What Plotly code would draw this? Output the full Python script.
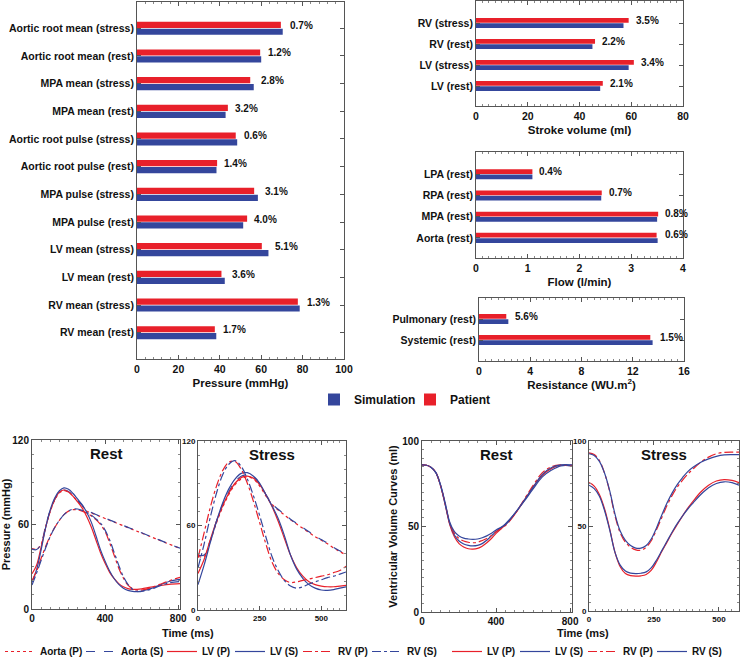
import plotly.graph_objects as go

BLUE = "#34469C"
RED = "#E8202A"
FONT = "Liberation Sans"

# ---------------- bar chart data (listed top -> bottom as drawn) ----------------
pressure_cats = ["Aortic root mean (stress)", "Aortic root mean (rest)", "MPA mean (stress)",
                 "MPA mean (rest)", "Aortic root pulse (stress)", "Aortic root pulse (rest)",
                 "MPA pulse (stress)", "MPA pulse (rest)", "LV mean (stress)", "LV mean (rest)",
                 "RV mean (stress)", "RV mean (rest)"]
pressure_sim = [70.4, 60.0, 56.4, 42.8, 48.4, 38.4, 58.4, 51.3, 63.5, 42.4, 78.6, 38.3]
pressure_pat = [69.5, 59.5, 54.7, 43.9, 47.7, 38.7, 56.6, 53.2, 60.3, 40.8, 77.7, 37.6]
pressure_err = ["0.7%", "1.2%", "2.8%", "3.2%", "0.6%", "1.4%", "3.1%", "4.0%", "5.1%", "3.6%", "1.3%", "1.7%"]

stroke_cats = ["RV (stress)", "RV (rest)", "LV (stress)", "LV (rest)"]
stroke_sim = [57.0, 45.0, 59.0, 48.0]
stroke_pat = [59.0, 46.0, 61.0, 49.0]
stroke_err = ["3.5%", "2.2%", "3.4%", "2.1%"]

flow_cats = ["LPA (rest)", "RPA (rest)", "MPA (rest)", "Aorta (rest)"]
flow_sim = [1.09, 2.42, 3.50, 3.51]
flow_pat = [1.09, 2.43, 3.52, 3.49]
flow_err = ["0.4%", "0.7%", "0.8%", "0.6%"]

resist_cats = ["Pulmonary (rest)", "Systemic (rest)"]
resist_sim = [2.29, 13.55]
resist_pat = [2.13, 13.37]
resist_err = ["5.6%", "1.5%"]

# ---------------- pressure curves (mmHg) ----------------
t_rest_p = [0, 25, 50, 75, 100, 125, 150, 175, 200, 225, 250, 275, 300, 325, 350, 375, 400,
            425, 450, 475, 500, 525, 550, 575, 600, 650, 700, 750, 810]
aorta_rest_P = [43, 42.5, 46, 58.5, 69.5, 77.5, 82.5, 84, 83, 80, 76.5, 73, 69.5, 68.2, 66.9, 65.6, 64.3,
                63.0, 61.7, 60.4, 59.1, 57.8, 56.5, 55.2, 53.9, 51.3, 48.7, 46.1, 43]
aorta_rest_S = [42.5, 42.2, 46.5, 59, 70, 78, 83, 84.5, 83.5, 80.5, 77, 73.5, 70, 68.5, 67.1, 65.8, 64.5,
                63.2, 61.9, 60.6, 59.3, 58.0, 56.7, 55.4, 54.1, 51.5, 48.9, 46.2, 43.2]
lv_rest_P = [25, 31, 44, 58, 69.5, 78, 83, 84.5, 83, 80, 76, 71.5, 65.5, 58, 49, 40, 32.5,
             26, 21.5, 18, 15.8, 14.5, 14, 14, 14.3, 15.5, 16.5, 17.5, 18]
lv_rest_S = [19, 28, 42, 58, 70.5, 79, 84, 86, 85, 82, 78, 74, 68.5, 61.5, 52, 42, 34,
             27, 21.5, 17.5, 14.8, 13.2, 12.5, 12.3, 12.8, 14.5, 17, 19.5, 21]
rv_rest_P = [20, 27, 36, 44.5, 52, 58, 63, 67, 69.5, 70.5, 70.5, 69.5, 68, 66, 63.5, 60, 55,
             47, 38, 29, 22, 17, 14.5, 13.5, 13.5, 15, 17.5, 20, 22.5]
rv_rest_S = [17, 25.5, 34.5, 43.5, 51.5, 58, 63, 67, 69.5, 71, 71, 70, 68.5, 66.5, 64, 61, 56,
             49, 40, 31, 23, 17.5, 14, 12.5, 12.5, 14, 16.5, 18.5, 19.5]

t_stress_p = [0, 25, 50, 75, 100, 125, 150, 175, 200, 225, 250, 275, 300, 325, 350, 375, 400,
              425, 450, 475, 500, 525, 550, 575, 600]
aorta_stress_P = [38, 38, 49, 62, 73, 82, 89, 93, 94.5, 93, 88, 81, 75, 71, 67.5, 64, 61,
                  58, 55, 52, 49.5, 47, 44, 41.5, 39]
aorta_stress_S = [39, 39, 49.5, 63, 75, 84, 91, 95, 96, 94.5, 89.5, 82, 75.5, 71.5, 68, 64.5, 61.5,
                  58.5, 55.5, 52.5, 50, 47.5, 44.5, 42, 39.5]
lv_stress_P = [26, 36, 50, 63, 74, 83, 90, 94, 95, 93.5, 89, 82, 73.5, 63, 51, 39, 30,
               24, 20, 18, 17, 16.5, 16.5, 17, 17.5]
lv_stress_S = [18, 32, 48, 63, 76, 86, 93, 97, 97.5, 95, 90, 82, 74, 65, 53, 39, 29,
               22.5, 18, 15.5, 14.2, 14, 14.5, 15.5, 16.5]
rv_stress_P = [37, 55, 73, 88, 99, 105, 105.5, 100, 90, 77, 62, 47, 34, 26, 21.5, 19.5, 20,
               21, 22, 23, 24, 25, 26.5, 28, 31]
rv_stress_S = [30, 47, 66, 83, 96, 103.5, 106, 102, 93, 81, 67, 52, 38, 28, 21, 17, 15.5,
               16.5, 18.5, 20, 21.5, 23, 24, 25.5, 27]

# ---------------- ventricular volume curves (ml) ----------------
t_rest_v = [0, 25, 50, 75, 100, 125, 150, 175, 200, 225, 250, 275, 300, 325, 350, 375, 400,
            450, 500, 550, 600, 650, 700, 750, 810]
lv_rest_vol_P = [86, 85.8, 84.5, 81.5, 74, 63, 51, 44, 40, 38, 37, 36.8, 37.2, 38.5, 40.5, 43, 46,
                 51, 57, 65, 73, 80, 84, 85.8, 85.5]
lv_rest_vol_S = [86, 85.8, 84.5, 81.5, 74, 63, 51.5, 45, 41.5, 39.8, 39, 38.7, 39, 40, 42, 44.5, 47,
                 51.5, 57.5, 64.5, 72, 79, 83, 85.5, 85.5]
rv_rest_vol_P = [86, 85.8, 84.5, 81.5, 74, 63.5, 52, 46, 43, 41.5, 40.8, 40.5, 40.8, 41.8, 43, 44.8, 47,
                 50.5, 57, 65.5, 74, 81.5, 85, 86, 85.8]
rv_rest_vol_S = [86, 85.8, 84.5, 81.5, 74.5, 64, 52.5, 47, 44.5, 43.2, 42.7, 42.5, 42.7, 43.4, 44.5, 46, 48,
                 51, 57.5, 65, 73, 80.5, 84.5, 86, 86]

t_stress_v = [0, 20, 40, 60, 80, 100, 120, 140, 160, 180, 200, 220, 240, 260, 280, 300, 320,
              340, 360, 380, 400, 430, 460, 490, 520, 550, 577]
lv_stress_vol_P = [75.5, 73.5, 68.5, 60, 48, 34.5, 26, 22, 20.8, 20.5, 20.7, 21.5, 24, 29, 35, 40.5, 46,
                   51, 56, 60.5, 64.5, 70, 74, 76.5, 77.3, 76.8, 75.5]
lv_stress_vol_S = [74, 72, 67.5, 59, 47.5, 34.5, 27, 23.5, 22.3, 22, 22.2, 23, 25.5, 30, 35.5, 41, 46.5,
                   51.5, 56, 60, 63.5, 68.5, 72.5, 75, 76, 75.5, 74]
rv_stress_vol_P = [93, 92, 88.5, 81, 70, 56, 46, 40.5, 37.5, 36, 35.8, 37.5, 41.5, 48, 55, 62, 68,
                   73, 77, 80.5, 83.5, 87.5, 90.5, 92.5, 93.3, 93.5, 93.5]
rv_stress_vol_S = [92.5, 91.5, 88, 81, 70.5, 57, 47, 41.5, 38.5, 37, 37, 38.5, 42.5, 49, 56.5, 63.5, 69.5,
                   74.5, 78.5, 82, 84.5, 87.5, 89.5, 91, 91.8, 92, 92]

# legend entry widths (px) for the compact legends (last entry gets its full text width)
LEG_W = {"Aorta (P)": 36, "Aorta (S)": 36, "LV (P)": 23, "LV (S)": 23, "RV (P)": 24, "RV (S)": 33}

fig = go.Figure()


def add_bars(cats, sim, pat, err, xa, ya, showlegend):
    cb, sb, pb, eb = cats[::-1], sim[::-1], pat[::-1], err[::-1]
    fig.add_trace(go.Bar(y=cb, x=sb, orientation="h", name="Simulation", marker_color=BLUE,
                         marker_line_width=0, xaxis=xa, yaxis=ya, showlegend=showlegend,
                         legendgroup="sim", legend="legend", legendwidth=51))
    fig.add_trace(go.Bar(y=cb, x=pb, orientation="h", name="Patient", marker_color=RED,
                         marker_line_width=0, xaxis=xa, yaxis=ya, showlegend=showlegend,
                         legendgroup="pat", legend="legend"))
    for c, s, p, e in zip(cb, sb, pb, eb):
        fig.add_annotation(x=max(s, p), y=c, xref=xa, yref=ya, text=e, showarrow=False,
                           xanchor="left", xshift=5, yshift=3,
                           font=dict(family=FONT, size=10, color="#111", weight="bold"))


add_bars(pressure_cats, pressure_sim, pressure_pat, pressure_err, "x", "y", True)
add_bars(stroke_cats, stroke_sim, stroke_pat, stroke_err, "x2", "y2", False)
add_bars(flow_cats, flow_sim, flow_pat, flow_err, "x3", "y3", False)
add_bars(resist_cats, resist_sim, resist_pat, resist_err, "x4", "y4", False)


def add_line(t, v, name, color, dash, xa, ya, legend, show):
    fig.add_trace(go.Scatter(x=t, y=v, mode="lines", name=name,
                             line=dict(color=color, width=1.2, dash=dash, shape="spline"),
                             xaxis=xa, yaxis=ya, legend=legend, showlegend=show,
                             legendgroup=legend + name, legendwidth=LEG_W[name]))


for xa, ya, show, t, aP, aS, lP, lS, rP, rS in [
        ("x5", "y5", True, t_rest_p, aorta_rest_P, aorta_rest_S, lv_rest_P, lv_rest_S, rv_rest_P, rv_rest_S),
        ("x6", "y6", False, t_stress_p, aorta_stress_P, aorta_stress_S, lv_stress_P, lv_stress_S, rv_stress_P, rv_stress_S)]:
    add_line(t, aP, "Aorta (P)", RED, "dot", xa, ya, "legend2", show)
    add_line(t, aS, "Aorta (S)", BLUE, "dash", xa, ya, "legend2", show)
    add_line(t, lP, "LV (P)", RED, "solid", xa, ya, "legend2", show)
    add_line(t, lS, "LV (S)", BLUE, "solid", xa, ya, "legend2", show)
    add_line(t, rP, "RV (P)", RED, "dashdot", xa, ya, "legend2", show)
    add_line(t, rS, "RV (S)", BLUE, "dashdot", xa, ya, "legend2", show)

for xa, ya, show, t, lP, lS, rP, rS in [
        ("x7", "y7", True, t_rest_v, lv_rest_vol_P, lv_rest_vol_S, rv_rest_vol_P, rv_rest_vol_S),
        ("x8", "y8", False, t_stress_v, lv_stress_vol_P, lv_stress_vol_S, rv_stress_vol_P, rv_stress_vol_S)]:
    add_line(t, lP, "LV (P)", RED, "solid", xa, ya, "legend3", show)
    add_line(t, lS, "LV (S)", BLUE, "solid", xa, ya, "legend3", show)
    add_line(t, rP, "RV (P)", RED, "dashdot", xa, ya, "legend3", show)
    add_line(t, rS, "RV (S)", BLUE, "solid", xa, ya, "legend3", show)

W, H = 740, 657


def dx(a, b):
    return [a / W, b / W]


def dy(top, bottom):
    return [1 - bottom / H, 1 - top / H]


AX = "#555"


def bar_x(domain, rng, dtick, minor, title, anchor):
    return dict(domain=domain, range=rng, dtick=dtick, tick0=0, ticks="inside", ticklen=4, tickcolor=AX,
                minor=dict(dtick=minor, tick0=0, ticks="inside", ticklen=2, tickcolor="#888"),
                showline=True, linecolor=AX, linewidth=1, mirror="ticks", showgrid=False, zeroline=False,
                tickfont=dict(family=FONT, size=10.5, color="#111", weight="bold"),
                title=dict(text=title, font=dict(family=FONT, size=11.5, color="#111", weight="bold"), standoff=5),
                anchor=anchor, fixedrange=True)


def bar_y(domain, cats, rng, anchor):
    return dict(domain=domain, type="category", categoryorder="array", categoryarray=cats[::-1], range=rng,
                ticks="inside", ticklen=4, tickcolor=AX, showline=True, linecolor=AX, linewidth=1,
                mirror="ticks", showgrid=False, zeroline=False,
                tickfont=dict(family=FONT, size=10.5, color="#111", weight="bold"), anchor=anchor)


def line_ax(domain, rng, tickvals, minor, size, anchor, title=None):
    d = dict(domain=domain, range=rng, tickvals=tickvals, ticks="inside", ticklen=4, tickcolor=AX,
             minor=dict(dtick=minor, tick0=0, ticks="inside", ticklen=2, tickcolor="#888"),
             showline=True, linecolor=AX, linewidth=1, mirror="ticks", showgrid=False, zeroline=False,
             tickfont=dict(family=FONT, size=size, color="#111", weight="bold"), anchor=anchor)
    if title:
        d["title"] = dict(text=title, font=dict(family=FONT, size=11, color="#111", weight="bold"), standoff=2)
    return d


LEGFONT = dict(family=FONT, size=10, color="#111", weight="bold")
fig.update_layout(
    width=W, height=H, margin=dict(l=0, r=0, t=0, b=0, autoexpand=False),
    paper_bgcolor="white", plot_bgcolor="white",
    font=dict(family=FONT, color="#111"),
    barmode="group", bargap=0.5, bargroupgap=0.1,
    xaxis=bar_x(dx(137, 344), [0, 100], 20, 4, "Pressure (mmHg)", "y"),
    yaxis=bar_y(dy(2, 359), pressure_cats, [-0.95, 11.95], "x"),
    xaxis2=bar_x(dx(476, 683), [0, 80], 20, 2.5, "Stroke volume (ml)", "y2"),
    yaxis2=bar_y(dy(1, 106), stroke_cats, [-0.95, 4.05], "x2"),
    xaxis3=bar_x(dx(476, 683), [0, 4], 1, 0.125, "Flow (l/min)", "y3"),
    yaxis3=bar_y(dy(152, 258), flow_cats, [-0.95, 4.05], "x3"),
    xaxis4=bar_x(dx(479, 684), [0, 16], 4, 0.5, "Resistance (WU.m<sup>2</sup>)", "y4"),
    yaxis4=bar_y(dy(298, 361), resist_cats, [-1, 2], "x4"),
    xaxis5=line_ax(dx(32, 180), [0, 810], [0, 400, 800], 50, 10, "y5"),
    yaxis5=line_ax(dy(440, 609), [0, 120], [0, 60, 120], 10, 10, "x5", "Pressure (mmHg)"),
    xaxis6=line_ax(dx(198, 346), [0, 600], [0, 250, 500], 25, 8, "y6"),
    yaxis6=line_ax(dy(441, 610), [0, 120], [0, 60, 120], 10, 8, "x6"),
    xaxis7=line_ax(dx(422, 572), [0, 810], [0, 400, 800], 50, 10, "y7"),
    yaxis7=line_ax(dy(441, 612), [0, 100], [0, 50, 100], 5, 10, "x7", "Ventricular Volume Curves (ml)"),
    xaxis8=line_ax(dx(589, 739), [0, 577], [0, 250, 500], 25, 8, "y8"),
    yaxis8=line_ax(dy(441, 611), [0, 100], [0, 50, 100], 5, 8, "x8"),
    legend=dict(orientation="h", x=314 / W, y=1 - 385 / H, xanchor="left", yanchor="top",
                font=dict(family=FONT, size=12, color="#111", weight="bold"), bgcolor="rgba(0,0,0,0)",
                traceorder="normal"),
    legend2=dict(orientation="h", x=0, y=1 - 637 / H, xanchor="left", yanchor="top",
                 font=LEGFONT, bgcolor="rgba(0,0,0,0)", traceorder="normal", itemwidth=30),
    legend3=dict(orientation="h", x=447 / W, y=1 - 637 / H, xanchor="left", yanchor="top",
                 font=LEGFONT, bgcolor="rgba(0,0,0,0)", traceorder="normal", itemwidth=30),
)

TFONT = dict(family=FONT, size=15, color="#111", weight="bold")
for xa, ya in [("x5", "y5"), ("x7", "y7")]:
    fig.add_annotation(text="Rest", xref=xa + " domain", yref=ya + " domain", x=0.5, y=0.985,
                       xanchor="center", yanchor="top", showarrow=False, font=TFONT)
for xa, ya in [("x6", "y6"), ("x8", "y8")]:
    fig.add_annotation(text="Stress", xref=xa + " domain", yref=ya + " domain", x=0.5, y=0.985,
                       xanchor="center", yanchor="top", showarrow=False, font=TFONT)

AFONT = dict(family=FONT, size=11, color="#111", weight="bold")
fig.add_annotation(text="Time (ms)", xref="paper", yref="paper", x=188 / W, y=1 - 633 / H,
                   xanchor="center", yanchor="middle", showarrow=False, font=AFONT)
fig.add_annotation(text="Time (ms)", xref="paper", yref="paper", x=583 / W, y=1 - 633 / H,
                   xanchor="center", yanchor="middle", showarrow=False, font=AFONT)

fig.write_html("out.html", config={"displayModeBar": False},
               post_script="document.body.style.margin='0px';")
